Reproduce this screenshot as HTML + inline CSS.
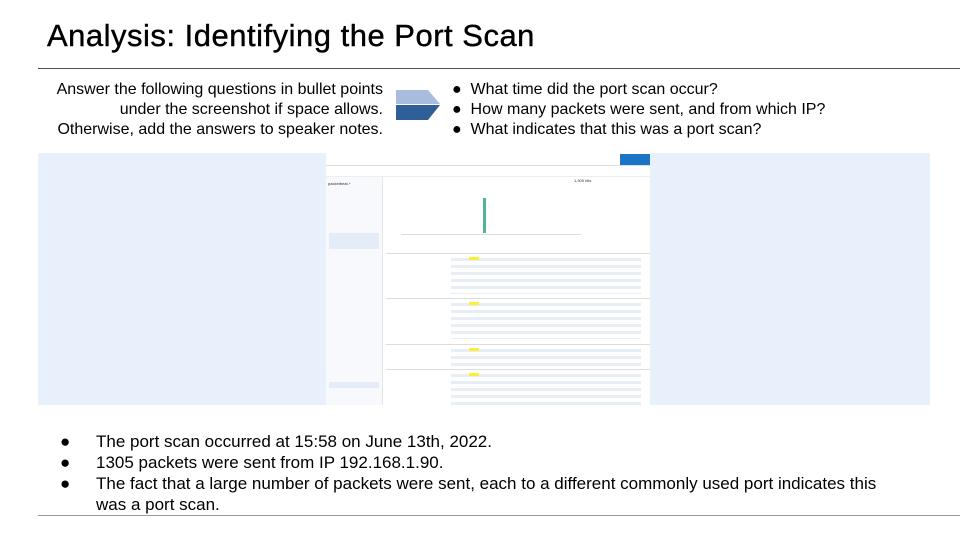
<!DOCTYPE html>
<html><head><style>
body{margin:0;width:960px;height:540px;background:#fff;position:relative;overflow:hidden;font-family:"Liberation Sans",sans-serif;color:#000}
.a{position:absolute}
.s{position:absolute;font-size:3px;color:#666;white-space:nowrap}
.b{position:relative;height:21px}
.b span{position:absolute;left:36px;white-space:nowrap}
</style></head><body>
<div class="a" style="left:47px;top:18px;font-size:31px;letter-spacing:0.5px;-webkit-text-stroke:0.4px #000">Analysis: Identifying the Port Scan</div>
<div class="a" style="left:38px;top:68px;width:922px;height:1px;background:#555"></div>
<div class="a" style="left:20px;top:80px;width:363px;text-align:right;font-size:16px;line-height:20px;white-space:nowrap">Answer the following questions in bullet points<br>under the screenshot if space allows.<br>Otherwise, add the answers to speaker notes.</div>
<svg class="a" style="left:395px;top:89px" width="48" height="33"><polygon points="1,1 33,1 45,15 1,15" fill="#a8bddd"/><polygon points="1,16 45,16 33,31 1,31" fill="#2e5f96"/></svg>
<div class="a" style="left:452px;top:80px;font-size:16px;line-height:20px;white-space:nowrap">● &nbsp;What time did the port scan occur?<br>● &nbsp;How many packets were sent, and from which IP?<br>● &nbsp;What indicates that this was a port scan?</div>
<div class="a" style="left:38px;top:153px;width:892px;height:252px;background:#e8f0fb"></div>
<div class="a" style="left:326px;top:153px;width:324px;height:252px;background:#fff;overflow:hidden">
 <div class="a" style="left:0;top:0;width:324px;height:12px;border-bottom:1px solid #ddd"></div>
 <div class="a" style="left:294px;top:1px;width:30px;height:11px;background:#1b74c6"></div>
 <div class="a" style="left:0;top:13px;width:324px;height:10px;border-bottom:1px solid #eee"></div>
 <div class="a" style="left:0;top:24px;width:56px;height:228px;background:#f7f9fc;border-right:1px solid #e5e5e5"></div>
 <div class="a" style="left:3px;top:80px;width:50px;height:16px;background:#e3ecf7"></div>
 <div class="a" style="left:3px;top:229px;width:50px;height:6px;background:#e3ecf7"></div>
 <div class="s" style="left:2px;top:28px;font-size:4px;color:#333">packetbeat-*</div>
 <div class="a" style="left:157px;top:45px;width:3px;height:35px;background:#54b399"></div>
 <div class="a" style="left:75px;top:81px;width:180px;height:1px;background:#ddd"></div>
 <div class="s" style="left:248px;top:25px;font-size:4px;color:#333">1,305 hits</div>
 <div class="a" style="left:60px;top:100px;width:264px;height:1px;background:#ddd"></div>
 <div class="a" style="left:60px;top:145px;width:264px;height:1px;background:#ddd"></div>
 <div class="a" style="left:60px;top:191px;width:264px;height:1px;background:#ddd"></div>
 <div class="a" style="left:60px;top:216px;width:264px;height:1px;background:#ddd"></div>
 <div class="a" style="left:125px;top:103px;width:190px;height:38px;background:repeating-linear-gradient(#fff 0 2px,#e8eef6 2px 5px,#fff 5px 7px)"></div>
 <div class="a" style="left:125px;top:148px;width:190px;height:38px;background:repeating-linear-gradient(#fff 0 2px,#e8eef6 2px 5px,#fff 5px 7px)"></div>
 <div class="a" style="left:125px;top:194px;width:190px;height:20px;background:repeating-linear-gradient(#fff 0 2px,#e8eef6 2px 5px,#fff 5px 7px)"></div>
 <div class="a" style="left:125px;top:219px;width:190px;height:33px;background:repeating-linear-gradient(#fff 0 2px,#e8eef6 2px 5px,#fff 5px 7px)"></div>
 <div class="a" style="left:143px;top:104px;width:10px;height:3px;background:#ffee33"></div>
 <div class="a" style="left:143px;top:149px;width:10px;height:3px;background:#ffee33"></div>
 <div class="a" style="left:143px;top:195px;width:10px;height:3px;background:#ffee33"></div>
 <div class="a" style="left:143px;top:220px;width:10px;height:3px;background:#ffee33"></div>
</div>
<div class="a" style="left:60px;top:431px;width:880px;font-size:17px;line-height:21px">
<div class="b">●<span>The port scan occurred at 15:58 on June 13th, 2022.</span></div>
<div class="b">●<span>1305 packets were sent from IP 192.168.1.90.</span></div>
<div class="b">●<span>The fact that a large number of packets were sent, each to a different commonly used port indicates this</span></div>
<div class="b"><span>was a port scan.</span></div>
</div>
<div class="a" style="left:38px;top:515px;width:922px;height:1px;background:#999"></div>
</body></html>
